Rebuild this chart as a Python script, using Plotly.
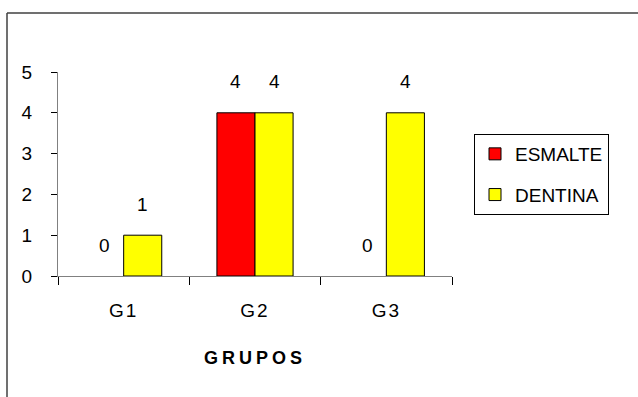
import plotly.graph_objects as go

categories = ["G1", "G2", "G3"]
esmalte = [0, 4, 0]
dentina = [1, 4, 4]
series_names = ["ESMALTE", "DENTINA"]
y_ticks = [0, 1, 2, 3, 4, 5]
x_title = "GRUPOS"

W, H = 638, 397
ML, MR, MT, MB = 58, 186, 72, 121
BARGAP = 0.42
FONT = "Liberation Sans, Arial, sans-serif"
FS = 19

fig = go.Figure()
colors = ["#FF0000", "#FFFF00"]
for i, (name, vals) in enumerate(zip(series_names, [esmalte, dentina])):
    fig.add_trace(go.Bar(
        x=categories, y=[v if v != 0 else None for v in vals], name=name,
        marker=dict(color=colors[i], line=dict(color="#000000", width=1)),
        legendgroup=name,
    ))

plot_w = W - ML - MR
plot_h = H - MT - MB
cat_w = plot_w / len(categories)
bar_w = cat_w * (1 - BARGAP) / 2
for i, vals in enumerate([esmalte, dentina]):
    shift = (-bar_w / 2) if i == 0 else (bar_w / 2)
    for c, v in zip(categories, vals):
        fig.add_annotation(x=c, y=v, text=str(v), showarrow=False,
                           xshift=shift, yshift=31, yanchor="middle",
                           font=dict(family=FONT, size=FS, color="#000"))

fig.add_annotation(xref="paper", yref="paper", x=0.5, y=-(358 - (H - MB)) / plot_h,
                   text="<b>" + x_title + "</b>", showarrow=False,
                   xanchor="center", yanchor="middle",
                   font=dict(family=FONT, size=18, color="#000"))

# outer frame (left and top border)
top_y = (H - MB - 13) / plot_h
left_x = (7 - ML) / plot_w
fig.add_shape(type="line", xref="paper", yref="paper",
              x0=left_x, x1=(W + 5 - ML) / plot_w, y0=top_y, y1=top_y,
              line=dict(color="#404040", width=1.5))
fig.add_shape(type="line", xref="paper", yref="paper",
              x0=left_x, x1=left_x, y0=top_y, y1=-(MB + 5) / plot_h,
              line=dict(color="#404040", width=1.5))

fig.update_layout(
    width=W, height=H,
    margin=dict(l=ML, r=MR, t=MT, b=MB),
    paper_bgcolor="white", plot_bgcolor="white",
    barmode="group", bargap=BARGAP, bargroupgap=0,
    font=dict(family=FONT, size=FS, color="#000"),
    showlegend=True,
    legend=dict(
        x=(474 - ML) / plot_w, xanchor="left",
        y=(H - MB - 134) / plot_h, yanchor="top",
        bordercolor="#000", borderwidth=1, bgcolor="white",
        font=dict(family=FONT, size=FS, color="#000"),
        tracegroupgap=13, traceorder="grouped",
    ),
    xaxis=dict(
        showline=True, linecolor="#808080", linewidth=1,
        ticks="outside", tickson="boundaries", ticklen=8, tickcolor="#000",
        ticklabelstandoff=17,
        showgrid=False, zeroline=False,
    ),
    yaxis=dict(
        range=[0, 5], tickvals=y_ticks,
        showline=True, linecolor="#808080", linewidth=1,
        ticks="outside", ticklen=6, tickcolor="#000",
        ticklabelstandoff=15,
        showgrid=False, zeroline=False,
    ),
)

post = (
    "document.body.style.margin='0';"
    "document.querySelectorAll('.xtick text').forEach(function(t){t.style.letterSpacing='2px';});"
    "document.querySelectorAll('.annotation-text').forEach(function(t){"
    "if(t.textContent.length>1){t.style.letterSpacing='4px';}});"
)
fig.write_html("out.html", config={"displayModeBar": False}, post_script=post)
